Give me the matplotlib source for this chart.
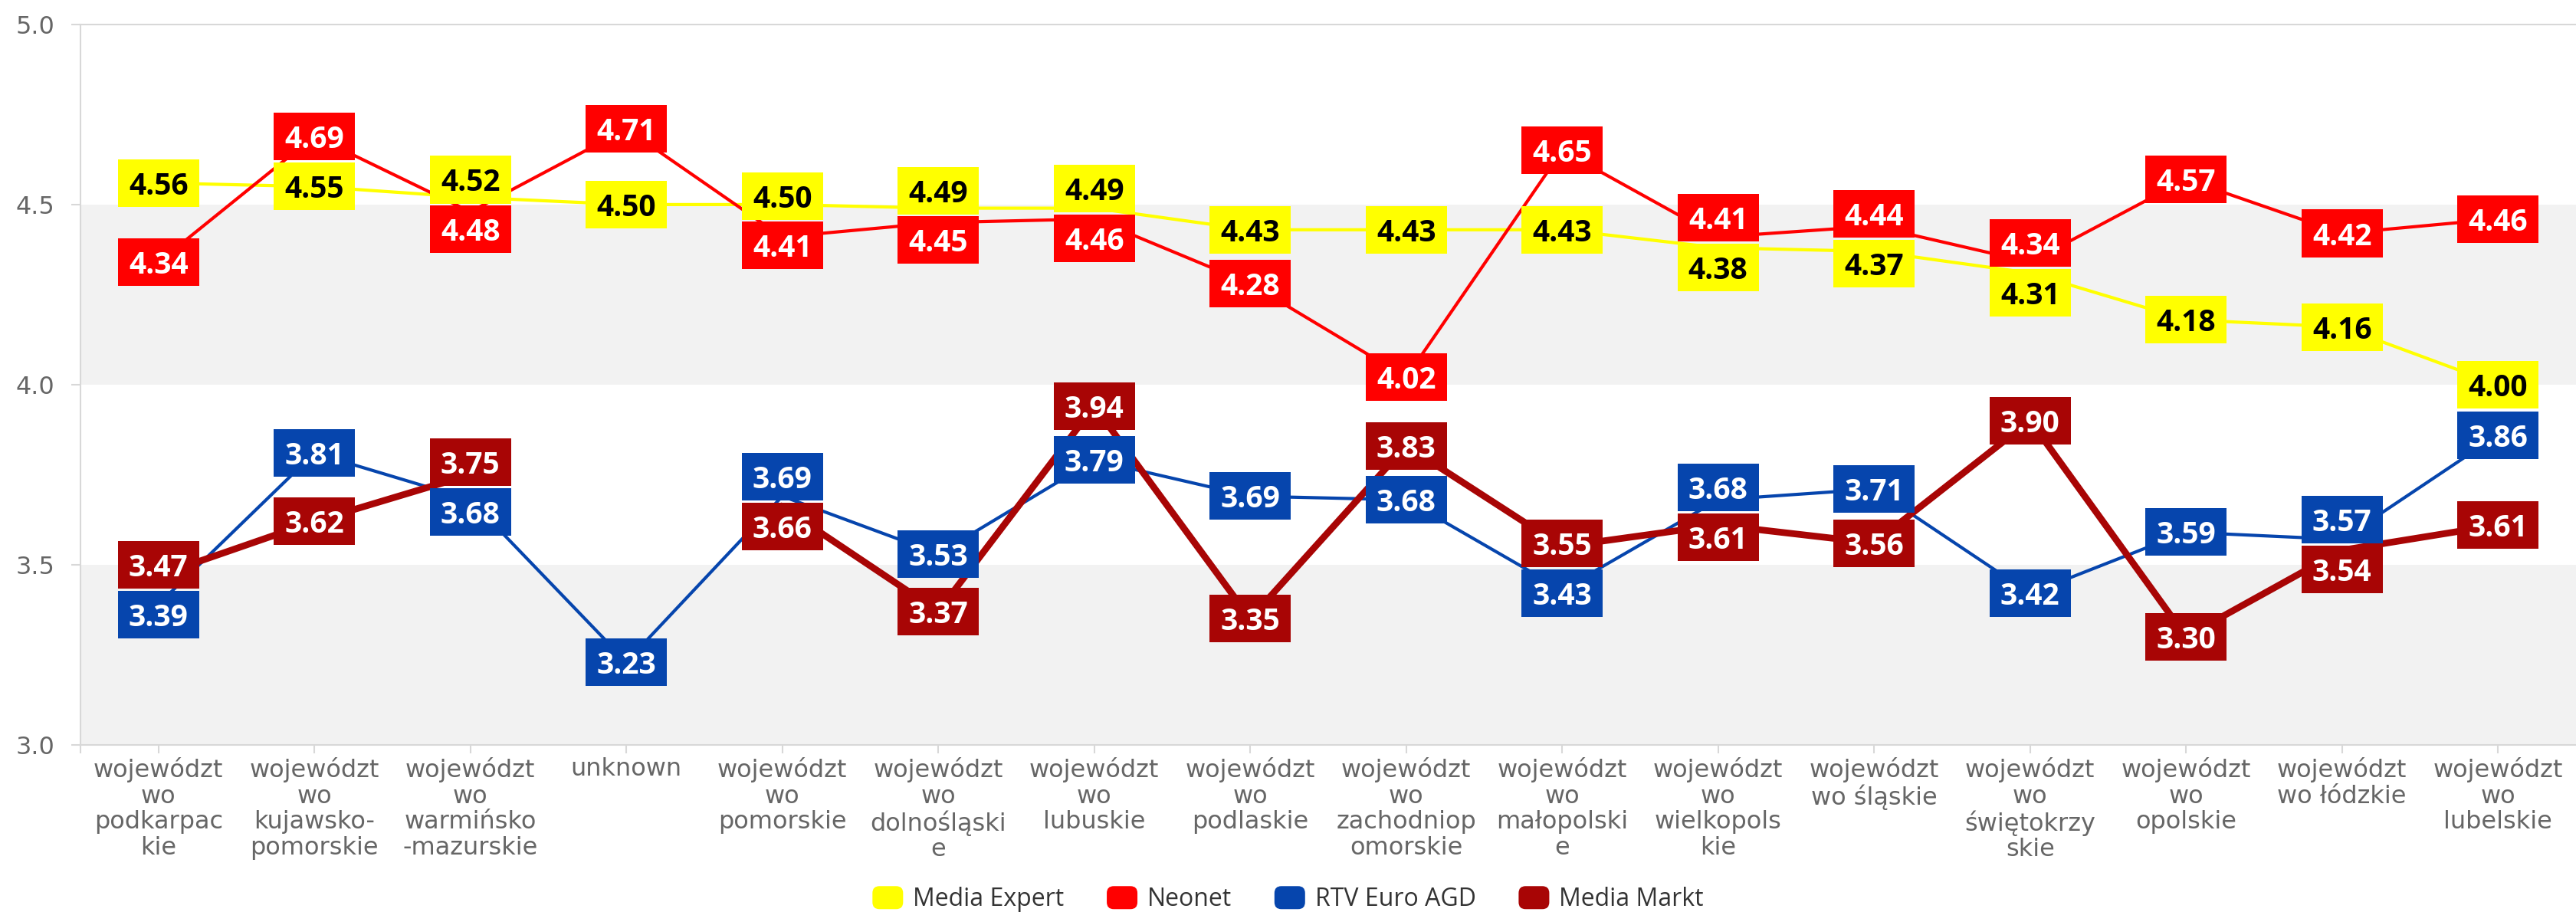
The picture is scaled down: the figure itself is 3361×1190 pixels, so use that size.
import numpy as np
import matplotlib
matplotlib.use("Agg")
import matplotlib.pyplot as plt
from matplotlib.patches import Rectangle, FancyBboxPatch, Patch
from matplotlib.legend_handler import HandlerPatch

plt.rcParams['font.family'] = ['Open Sans', 'DejaVu Sans']

# dane
kategorie = [
    "województ\nwo\npodkarpac\nkie",
    "województ\nwo\nkujawsko-\npomorskie",
    "województ\nwo\nwarmińsko\n-mazurskie",
    "unknown",
    "województ\nwo\npomorskie",
    "województ\nwo\ndolnośląski\ne",
    "województ\nwo\nlubuskie",
    "województ\nwo\npodlaskie",
    "województ\nwo\nzachodniop\nomorskie",
    "województ\nwo\nmałopolski\ne",
    "województ\nwo\nwielkopols\nkie",
    "województ\nwo śląskie",
    "województ\nwo\nświętokrzy\nskie",
    "województ\nwo\nopolskie",
    "województ\nwo łódzkie",
    "województ\nwo\nlubelskie",
]

media_expert = [4.56, 4.55, 4.52, 4.50, 4.50, 4.49, 4.49, 4.43, 4.43, 4.43, 4.38, 4.37, 4.31, 4.18, 4.16, 4.00]
neonet = [4.34, 4.69, 4.48, 4.71, 4.41, 4.45, 4.46, 4.28, 4.02, 4.65, 4.41, 4.44, 4.34, 4.57, 4.42, 4.46]
rtv_euro_agd = [3.39, 3.81, 3.68, 3.23, 3.69, 3.53, 3.79, 3.69, 3.68, 3.43, 3.68, 3.71, 3.42, 3.59, 3.57, 3.86]
media_markt = [3.47, 3.62, 3.75, None, 3.66, 3.37, 3.94, 3.35, 3.83, 3.55, 3.61, 3.56, 3.90, 3.30, 3.54, 3.61]

nazwy = ["Media Expert", "Neonet", "RTV Euro AGD", "Media Markt"]
serie = [media_expert, neonet, rtv_euro_agd, media_markt]
kolory = ["#FFFF00", "#FF0000", "#0645AD", "#A80505"]
kolory_tekstu = ["black", "white", "white", "white"]
grubosci = [3.0, 3.0, 3.0, 6.3]

fig = plt.figure(figsize=(33.61, 11.90), dpi=100)
ax = fig.add_axes([0.03124, 0.1835, 0.96876, 0.7896])

x = np.arange(len(kategorie))

# pasy tla
ax.axhspan(3.0, 3.5, color="#F2F2F2", zorder=0, lw=0)
ax.axhspan(4.0, 4.5, color="#F2F2F2", zorder=0, lw=0)

for s, (vals, kol, lw) in enumerate(zip(serie, kolory, grubosci)):
    y = np.array([np.nan if v is None else v for v in vals], dtype=float)
    ax.plot(x, y, color=kol, lw=lw, zorder=2 + s * 0.1, solid_joinstyle='round')

# rozsuwanie etykiet zeby sie nie nakladaly
box_w = 0.52
box_h = 0.132
sep = 0.138
pozycje = {}
for i in x:
    pts = [[serie[s][i], s] for s in range(len(serie)) if serie[s][i] is not None]
    pts.sort(key=lambda p: p[0])
    ys = [p[0] for p in pts]
    for _ in range(50):
        for k in range(len(ys) - 1):
            d = ys[k + 1] - ys[k]
            if d < sep:
                m = (sep - d) / 2
                ys[k] -= m
                ys[k + 1] += m
    for p, yy in zip(pts, ys):
        pozycje[(i, p[1])] = yy

for s, vals in enumerate(serie):
    for i in x:
        v = vals[i]
        if v is None:
            continue
        yy = pozycje[(i, s)]
        ax.add_patch(Rectangle((i - box_w / 2, yy - box_h / 2), box_w, box_h,
                               facecolor=kolory[s], edgecolor='none', zorder=5 + s))
        ax.text(i, yy, f"{v:.2f}", ha='center', va='center_baseline', fontsize=28,
                fontweight='bold', color=kolory_tekstu[s], zorder=5.5 + s)

ax.set_xlim(-0.5, len(kategorie) - 0.5)
ax.set_ylim(3.0, 5.0)
ax.set_yticks([3.0, 3.5, 4.0, 4.5, 5.0])
ax.set_yticklabels(["3.0", "3.5", "4.0", "4.5", "5.0"], family='DejaVu Sans')
ax.set_xticks(x)
ax.set_xticklabels(kategorie, linespacing=1.1, family='DejaVu Sans')
ax.set_xticks([-0.5], minor=True)
ax.tick_params(axis='y', labelsize=23, labelcolor="#666666", color="#D8D8D8", length=9, width=1.5, pad=15)
ax.tick_params(axis='x', which='both', labelsize=23, labelcolor="#666666", color="#D8D8D8", length=8, width=1.5, pad=4)

for sp in ['left', 'bottom', 'top']:
    ax.spines[sp].set_color("#D8D8D8")
    ax.spines[sp].set_linewidth(1.5)
ax.spines['right'].set_visible(False)
ax.set_facecolor('white')


class ZaokraglonyKwadrat(HandlerPatch):
    def create_artists(self, legend, orig_handle, xdescent, ydescent, width, height, fontsize, trans):
        szer = 28.8
        wys = 21.6
        cx = width / 2 - xdescent
        cy = height / 2 - ydescent
        p = FancyBboxPatch((cx - szer / 2, cy - wys / 2), szer, wys,
                           boxstyle=f"round,pad=0,rounding_size={wys * 0.3}",
                           facecolor=orig_handle.get_facecolor(), edgecolor='none', transform=trans)
        return [p]


uchwyty = [Patch(facecolor=k, label=n) for k, n in zip(kolory, nazwy)]
fig.legend(handles=uchwyty, loc='center', bbox_to_anchor=(0.5, 0.0135), ncol=4, frameon=False,
           fontsize=23, labelcolor="#333333", handlelength=1.25, handletextpad=0.4, columnspacing=1.75,
           handler_map={Patch: ZaokraglonyKwadrat()})

fig.savefig("out.png", dpi=100)
